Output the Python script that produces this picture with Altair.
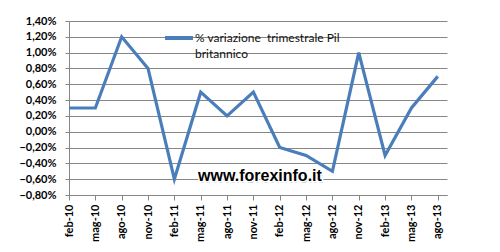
import altair as alt
import pandas as pd

categories = ["feb-10", "mag-10", "ago-10", "nov-10", "feb-11", "mag-11", "ago-11", "nov-11",
              "feb-12", "mag-12", "ago-12", "nov-12", "feb-13", "mag-13", "ago-13"]
values = [0.3, 0.3, 1.2, 0.8, -0.6, 0.5, 0.2, 0.5, -0.2, -0.3, -0.5, 1.0, -0.3, 0.3, 0.7]
y_ticks = [-0.8, -0.6, -0.4, -0.2, 0.0, 0.2, 0.4, 0.6, 0.8, 1.0, 1.2, 1.4]
series_name = ["% variazione\u00a0 trimestrale Pil", "britannico"]
watermark = "www.forexinfo.it"

df = pd.DataFrame({"idx": list(range(len(categories))), "cat": categories, "val": values})

cat_array = "[" + ",".join("'" + c + "'" for c in categories) + "]"

FONT = "Lato"
GRID = "#868686"
LINE = "#4A7EBB"

x = alt.X("idx:Q",
          scale=alt.Scale(domain=[0, 14.35], nice=False, zero=False),
          axis=alt.Axis(values=list(range(len(categories))),
                        labelExpr=cat_array + "[datum.value]",
                        labelAngle=270, labelAlign="right", labelBaseline="middle",
                        labelPadding=4, labelFont=FONT, labelFontSize=11,
                        labelFontWeight="bold", labelColor="#000000",
                        domainColor=GRID, tickColor=GRID, tickSize=5,
                        grid=False, title=None, labelOverlap=False))

y = alt.Y("val:Q",
          scale=alt.Scale(domain=[-0.8, 1.4], nice=False, zero=False),
          axis=alt.Axis(values=y_ticks,
                        labelExpr="replace(format(datum.value, '.2f'), '.', ',') + '%'",
                        labelFont=FONT, labelFontSize=11, labelFontWeight="bold",
                        labelColor="#000000", labelPadding=9,
                        domainColor=GRID, tickColor=GRID, tickSize=4,
                        grid=True, gridColor=GRID, gridWidth=1,
                        title=None, labelOverlap=False))

line = alt.Chart(df).mark_line(color=LINE, strokeWidth=3.2, strokeJoin="miter").encode(x=x, y=y)

legend_rule = alt.Chart(df).mark_rule(color=LINE, strokeWidth=3).encode(
    x=alt.value(96), x2=alt.value(124), y=alt.value(17))

legend_text = alt.Chart(pd.DataFrame({"t": [series_name]})).mark_text(
    align="left", baseline="middle", font=FONT, fontSize=12, color="#111111",
    lineHeight=16).encode(x=alt.value(126), y=alt.value(17), text="t:N")

wm_shadow = alt.Chart(pd.DataFrame({"t": [watermark]})).mark_text(
    align="left", baseline="middle", font="Liberation Sans", fontSize=16, fontWeight="bold",
    color="#999999", opacity=0.6).encode(x=alt.value(130), y=alt.value(156.5), text="t:N")

wm_halo = alt.Chart(pd.DataFrame({"t": [watermark]})).mark_text(
    align="left", baseline="middle", font="Liberation Sans", fontSize=16, fontWeight="bold",
    color="#ffffff", stroke="#ffffff", strokeWidth=3).encode(
    x=alt.value(129), y=alt.value(155), text="t:N")

wm = alt.Chart(pd.DataFrame({"t": [watermark]})).mark_text(
    align="left", baseline="middle", font="Liberation Sans", fontSize=16, fontWeight="bold",
    color="#000000").encode(x=alt.value(129), y=alt.value(155), text="t:N")

chart = alt.layer(line, legend_rule, legend_text, wm_shadow, wm_halo, wm).properties(
    width=378, height=174,
    autosize=alt.AutoSizeParams(type="none"),
    padding={"left": 69, "top": 21, "right": 53, "bottom": 57},
    background="#ffffff",
).configure_view(stroke=None)

chart.save("out.html", embed_options={"renderer": "svg", "actions": False})
